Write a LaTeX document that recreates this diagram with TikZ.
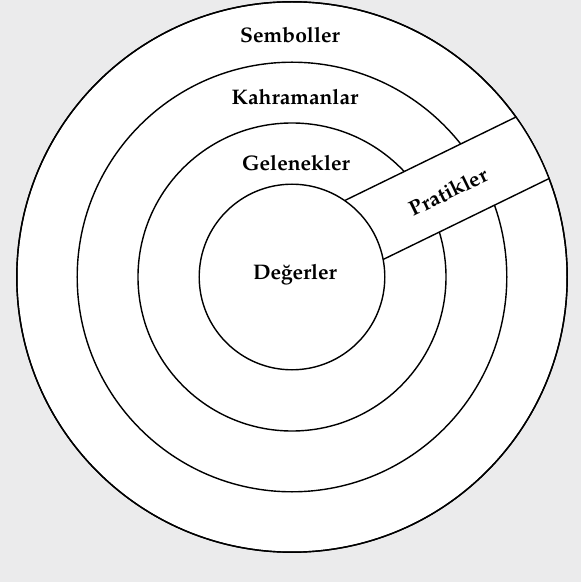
\documentclass[tikz,border=0pt]{standalone}
\usepackage{fontspec}
\setmainfont{TeX Gyre Pagella}
\definecolor{bggray}{RGB}{235,235,236}

\begin{document}
\begin{tikzpicture}[lbl/.style={font=\bfseries\fontsize{15}{18}\selectfont},
		ring/.style={draw,line width=1pt,fill=white},
		band/.style={line width=1pt}]
			\useasboundingbox (-7.3,-7.625) rectangle (7.225,6.925);
			\fill[bggray] (-7.3,-7.625) rectangle (7.225,6.925);
			\draw[ring] (0,0) circle (6.88);
			\draw[ring] (0,0) circle (5.37);
			\draw[ring] (0,0) circle (3.85);
			\begin{scope}[rotate=26]
				\clip (0,0) circle (6.88);
				\fill[white] (1.5,-0.605) rectangle (7.2,1.14);
			\end{scope}
			\draw[line width=1pt] (0,0) circle (6.88);
			\draw[ring] (0,0) circle (2.32);
			\begin{scope}[rotate=26]
				\coordinate (top1) at (2.026,1.14);
				\coordinate (top2) at (6.79,1.14);
				\coordinate (bot1) at (2.245,-0.605);
				\coordinate (bot2) at (6.86,-0.605);
				\draw (4.45,0.2) node [lbl,rotate=26] (pratikler) {Pratikler};
			\end{scope}
			\draw[band] (top1) -- (top2);
			\draw[band] (bot1) -- (bot2);
			\draw (-0.05,6.05) node [lbl] (semboller) {Semboller};
			\draw (0.075,4.5) node [lbl] (kahramanlar) {Kahramanlar};
			\draw (0.1,2.85) node [lbl] (gelenekler) {Gelenekler};
			\draw (0.075,0.05) node [lbl] (degerler) {Değerler};
		\end{tikzpicture}
\end{document}
